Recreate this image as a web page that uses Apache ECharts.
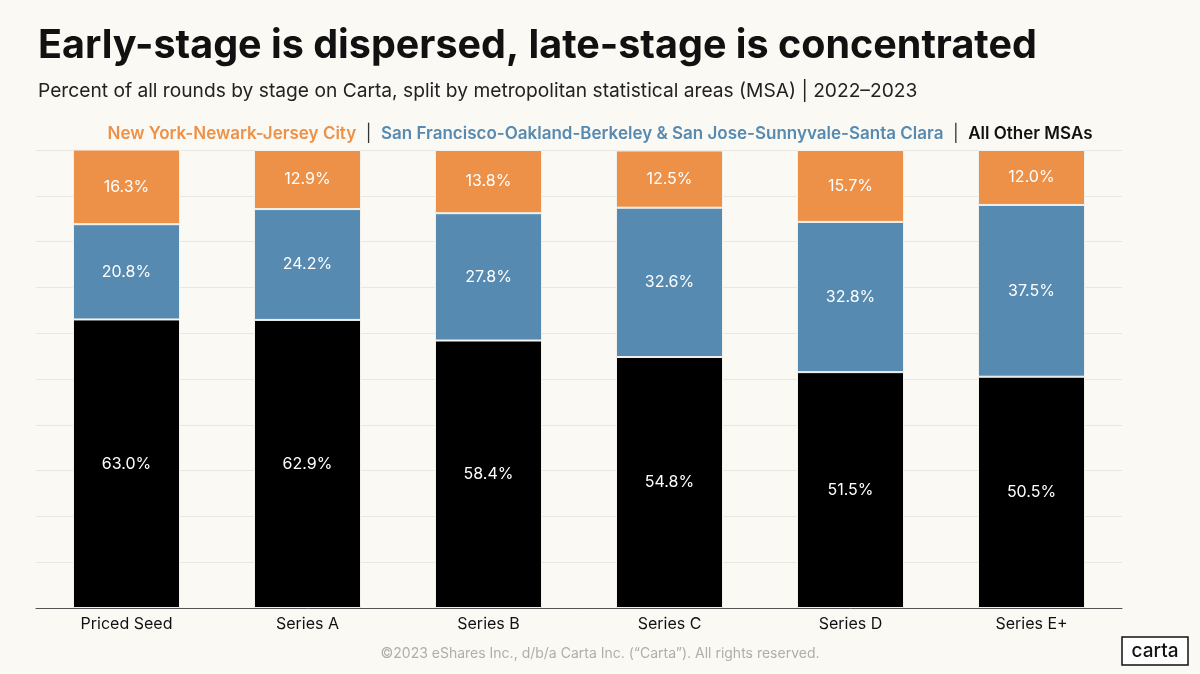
<!DOCTYPE html>
<html>
<head>
<meta charset="utf-8">
<script src="https://cdn.jsdelivr.net/npm/echarts@6/dist/echarts.min.js"></script>
<style>
html,body{margin:0;padding:0;background:#FBF9F4;}
#c{width:1200px;height:674px;}
</style>
</head>
<body>
<div id="c"></div>
<script>
const categories = ['Priced Seed','Series A','Series B','Series C','Series D','Series E+'];
const allOther = [63.0, 62.9, 58.4, 54.8, 51.5, 50.5];
const sfSj = [20.8, 24.2, 27.8, 32.6, 32.8, 37.5];
const nyc = [16.3, 12.9, 13.8, 12.5, 15.7, 12.0];
const seriesNames = ['All Other MSAs','San Francisco-Oakland-Berkeley & San Jose-Sunnyvale-Santa Clara','New York-Newark-Jersey City'];
const colors = ['#000000','#568AB1','#EE9148'];
const FONT = 'Inter, "Noto Sans", sans-serif';

const chart = echarts.init(document.getElementById('c'));
const lbl = {
  show: true, position: 'inside', color: '#fff', fontSize: 16, fontFamily: FONT,
  formatter: p => p.value.toFixed(1) + '%'
};
function mk(name, data, color) {
  return {
    name, type: 'bar', stack: 'total', data, barWidth: 107,
    itemStyle: {color, borderColor: '#F3F1EC', borderWidth: 1},
    label: lbl, emphasis: {disabled: true}
  };
}
chart.setOption({
  backgroundColor: '#FBF9F4',
  animation: false,
  title: [
    {text: 'Early-stage is dispersed, late-stage is concentrated', left: 33, top: 21,
     textStyle: {fontFamily: FONT, fontSize: 39.5, fontWeight: 'bold', color: '#111'}},
    {text: 'Percent of all rounds by stage on Carta, split by metropolitan statistical areas (MSA) | 2022–2023', left: 33, top: 77,
     textStyle: {fontFamily: FONT, fontSize: 19.2, fontWeight: 'normal', color: '#222'}},
    {text: '{a|' + seriesNames[2] + '}{s|  |  }{b|' + seriesNames[1] + '}{s|  |  }{c|' + seriesNames[0] + '}',
     left: 'center', top: 120,
     textStyle: {rich: {
       a: {fontFamily: FONT, fontSize: 17, fontWeight: 600, color: colors[2]},
       b: {fontFamily: FONT, fontSize: 17, fontWeight: 600, color: colors[1]},
       c: {fontFamily: FONT, fontSize: 17, fontWeight: 600, color: '#111'},
       s: {fontFamily: FONT, fontSize: 17, fontWeight: 'normal', color: '#333'}
     }}},
    {text: '©2023 eShares Inc., d/b/a Carta Inc. (“Carta”). All rights reserved.', left: 'center', top: 642,
     textStyle: {fontFamily: FONT, fontSize: 14, fontWeight: 'normal', color: '#b0aea8'}}
  ],
  graphic: [
    {type: 'rect', shape: {x: 1122, y: 637, width: 66, height: 28}, style: {fill: '#fff', stroke: '#111', lineWidth: 1.5}},
    {type: 'text', x: 1155, y: 651, style: {text: 'carta', fontFamily: FONT, fontSize: 19, fontWeight: 500, fill: '#111', align: 'center', verticalAlign: 'middle'}}
  ],
  grid: {left: 36, right: 78, top: 150, bottom: 66},
  xAxis: {
    type: 'category', data: categories,
    axisLine: {lineStyle: {color: '#555', width: 1}},
    axisTick: {show: false},
    axisLabel: {color: '#111', fontSize: 16, fontFamily: FONT, margin: 8}
  },
  yAxis: {
    type: 'value', min: 0, max: 100, interval: 10,
    axisLabel: {show: false}, axisLine: {show: false}, axisTick: {show: false},
    splitLine: {lineStyle: {color: '#E9E7E1'}}
  },
  series: [
    mk(seriesNames[0], allOther, colors[0]),
    mk(seriesNames[1], sfSj, colors[1]),
    mk(seriesNames[2], nyc, colors[2])
  ]
});
</script>
</body>
</html>
